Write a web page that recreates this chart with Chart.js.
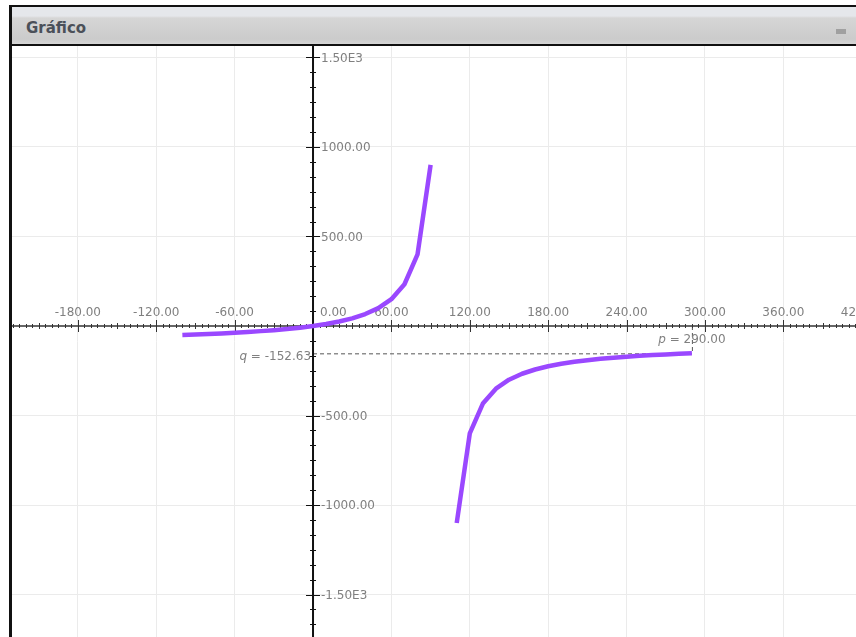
<!DOCTYPE html>
<html>
<head>
<meta charset="utf-8">
<script src="https://cdn.jsdelivr.net/npm/chart.js@4.4.0/dist/chart.umd.min.js"></script>
<style>
  html, body { margin: 0; padding: 0; background: #fff; width: 856px; height: 637px; overflow: hidden; }
  #frame { position: absolute; left: 9px; top: 5px; width: 860px; height: 640px; border-left: 3px solid #111; border-top: 2px solid #111; }
  #titlebar { position: absolute; left: 12px; top: 7px; width: 850px; height: 37px;
    background: linear-gradient(#e5e7eb 0px, #e5e7eb 9px, #d6d6d6 11px, #cbcbcb 32px, #d6d6d6 37px);
    border-bottom: 2px solid #111; }
  #title { position: absolute; left: 14px; top: 12px; font-family: "DejaVu Sans", sans-serif; font-weight: bold; font-size: 15px; color: #4b5059; }
  #minbtn { position: absolute; left: 824px; top: 22px; width: 10px; height: 5px; background: #a0a0a0; }
  #wrap { position: absolute; left: 12px; top: 46px; width: 844px; height: 591px; }
</style>
</head>
<body>
<div id="frame"></div>
<div id="titlebar"><div id="title">Gráfico</div><div id="minbtn"></div></div>
<div id="wrap"><canvas id="c"></canvas></div>
<script>
// Left branch (x < 100)
const leftX = [-100, -90, -80, -70, -60, -50, -40, -30, -20, -10, 0, 10, 20, 30, 40, 50, 60, 70, 80, 90];
const leftY = [-50, -47.37, -44.44, -41.18, -37.5, -33.33, -28.57, -23.08, -16.67, -9.09, 0, 11.11, 25, 42.86, 66.67, 100, 150, 233.33, 400, 900];
// Right branch (x > 100)
const rightX = [110, 120, 130, 140, 150, 160, 170, 180, 190, 200, 210, 220, 230, 240, 250, 260, 270, 280, 290];
const rightY = [-1100, -600, -433.33, -350, -300, -266.67, -242.86, -225, -211.11, -200, -190.91, -183.33, -176.92, -171.43, -166.67, -162.5, -158.82, -155.56, -152.63];

const xTickValues = [-180, -120, -60, 0, 60, 120, 180, 240, 300, 360, 420];
const xTickLabels = ['-180.00', '-120.00', '-60.00', '0.00', '60.00', '120.00', '180.00', '240.00', '300.00', '360.00', '420.00'];
const yTickValues = [1500, 1000, 500, -500, -1000, -1500];
const yTickLabels = ['1.50E3', '1000.00', '500.00', '-500.00', '-1000.00', '-1.50E3'];

const pValue = 290.00;
const qValue = -152.63;
const pLabel = '290.00';
const qLabel = '-152.63';

const toPts = (xs, ys) => xs.map((x, i) => ({ x: x, y: ys[i] }));

const axesPlugin = {
  id: 'crossAxes',
  beforeDatasetsDraw(chart) {
    const ctx = chart.ctx;
    const xs = chart.scales.x, ys = chart.scales.y;
    const ca = chart.chartArea;
    const x0 = xs.getPixelForValue(0);
    const y0 = ys.getPixelForValue(0);
    ctx.save();

    // dashed helper lines for p and q
    const px = xs.getPixelForValue(pValue);
    const qy = ys.getPixelForValue(qValue);
    ctx.strokeStyle = '#555';
    ctx.lineWidth = 1;
    ctx.setLineDash([4, 3]);
    ctx.beginPath();
    ctx.moveTo(x0, qy + 0.5); ctx.lineTo(px, qy + 0.5);
    ctx.moveTo(px + 0.5, y0); ctx.lineTo(px + 0.5, qy);
    ctx.stroke();
    ctx.setLineDash([]);

    // x axis
    ctx.strokeStyle = '#333';
    ctx.lineWidth = 1.5;
    ctx.beginPath();
    ctx.moveTo(ca.left, y0); ctx.lineTo(ca.right, y0);
    ctx.stroke();
    ctx.lineWidth = 1;
    ctx.beginPath();
    for (let v = -240; v <= 480; v += 5) {
      const p = Math.round(xs.getPixelForValue(v)) + 0.5;
      if (p < ca.left || p > ca.right) continue;
      let h = 2;
      if (v % 60 === 0) h = 6; else if (v % 30 === 0) h = 3;
      ctx.moveTo(p, y0 - h); ctx.lineTo(p, y0 + h);
    }
    ctx.stroke();

    // y axis
    ctx.strokeStyle = '#111';
    ctx.lineWidth = 2;
    ctx.beginPath();
    ctx.moveTo(x0, ca.top); ctx.lineTo(x0, ca.bottom);
    ctx.stroke();
    ctx.lineWidth = 1;
    ctx.beginPath();
    for (let k = -24; k <= 24; k++) {
      const v = k * 500 / 6;
      const p = Math.round(ys.getPixelForValue(v)) + 0.5;
      if (p < ca.top || p > ca.bottom) continue;
      const h = (k % 6 === 0) ? 7 : 3;
      ctx.moveTo(x0 - h, p); ctx.lineTo(x0 + h, p);
    }
    ctx.stroke();

    // tick labels
    ctx.fillStyle = '#808080';
    ctx.font = '12px "DejaVu Sans", sans-serif';
    ctx.textBaseline = 'middle';
    xTickValues.forEach((v, i) => {
      const p = xs.getPixelForValue(v);
      if (v === 0) { ctx.textAlign = 'left'; ctx.fillText(xTickLabels[i], p + 7, y0 - 13); }
      else { ctx.textAlign = 'center'; ctx.fillText(xTickLabels[i], p, y0 - 13); }
    });
    ctx.textAlign = 'left';
    yTickValues.forEach((v, i) => {
      const p = ys.getPixelForValue(v);
      ctx.fillText(yTickLabels[i], x0 + 8, p + 1);
    });

    // p and q labels
    const drawEq = (name, val, xPos, yPos, align) => {
      ctx.font = 'italic 12px "DejaVu Sans", sans-serif';
      const w1 = ctx.measureText(name).width;
      ctx.font = '12px "DejaVu Sans", sans-serif';
      const rest = ' = ' + val;
      const w2 = ctx.measureText(rest).width;
      const total = w1 + w2;
      let start = xPos;
      if (align === 'center') start = xPos - total / 2;
      if (align === 'right') start = xPos - total;
      ctx.textAlign = 'left';
      ctx.font = 'italic 12px "DejaVu Sans", sans-serif';
      ctx.fillText(name, start, yPos);
      ctx.font = '12px "DejaVu Sans", sans-serif';
      ctx.fillText(rest, start + w1, yPos);
    };
    drawEq('p', pLabel, px, qy - 13, 'center');
    drawEq('q', qLabel, x0 - 2, qy + 4, 'right');

    ctx.restore();
  }
};

new Chart(document.getElementById('c'), {
  type: 'scatter',
  data: {
    datasets: [
      { data: toPts(leftX, leftY), showLine: true, borderColor: '#9a48ff', borderWidth: 4.5, pointRadius: 0, tension: 0, borderCapStyle: 'butt', borderJoinStyle: 'round' },
      { data: toPts(rightX, rightY), showLine: true, borderColor: '#9a48ff', borderWidth: 4.5, pointRadius: 0, tension: 0, borderCapStyle: 'butt', borderJoinStyle: 'round' }
    ]
  },
  options: {
    responsive: true,
    maintainAspectRatio: false,
    animation: false,
    layout: { padding: 0 },
    plugins: { legend: { display: false }, tooltip: { enabled: false } },
    scales: {
      x: {
        type: 'linear',
        position: { y: 0 },
        min: -230.4,
        max: 415.6,
        afterBuildTicks: (s) => { s.ticks = xTickValues.map(v => ({ value: v })); },
        ticks: { display: false },
        border: { display: false },
        grid: { color: '#ebebeb', lineWidth: 1, drawTicks: false }
      },
      y: {
        type: 'linear',
        position: { x: 0 },
        min: -1737,
        max: 1564,
        afterBuildTicks: (s) => { s.ticks = yTickValues.map(v => ({ value: v })); },
        ticks: { display: false },
        border: { display: false },
        grid: { color: '#ebebeb', lineWidth: 1, drawTicks: false }
      }
    }
  },
  plugins: [axesPlugin]
});
</script>
</body>
</html>
